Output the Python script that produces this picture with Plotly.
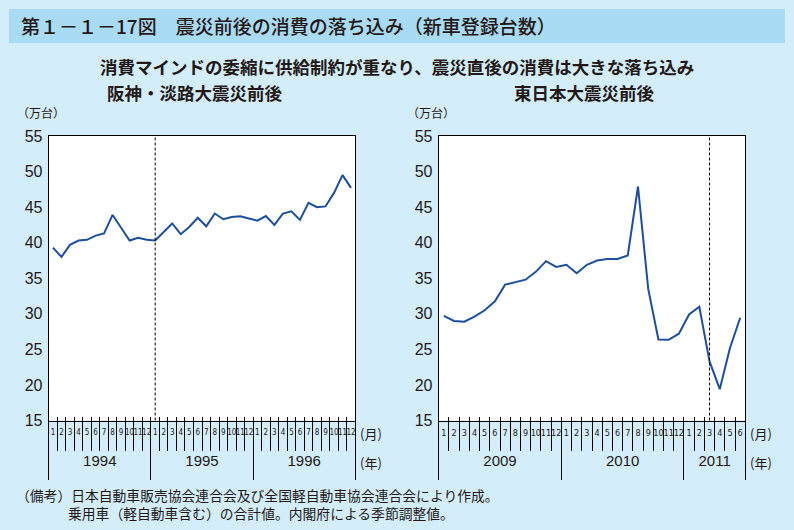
import plotly.graph_objects as go

# ---------------- data ----------------
hanshin_years = ["1994", "1995", "1996"]
hanshin_months = [str(m) for m in range(1, 13)] * 3
hanshin_year_len = [12, 12, 12]
hanshin_values = [39.3, 38.0, 39.7, 40.3, 40.4, 41.0, 41.3, 43.9, 42.1, 40.3, 40.7, 40.4,
                  40.3, 41.5, 42.7, 41.2, 42.2, 43.5, 42.3, 44.1, 43.3, 43.6, 43.7, 43.4,
                  43.1, 43.75, 42.5, 44.1, 44.4, 43.2, 45.6, 45.0, 45.1, 47.0, 49.5, 47.7]
hanshin_quake = ("1995", "1")

east_years = ["2009", "2010", "2011"]
east_months = [str(m) for m in range(1, 13)] * 2 + [str(m) for m in range(1, 7)]
east_year_len = [12, 12, 6]
east_values = [29.7, 29.0, 28.9, 29.6, 30.5, 31.75, 34.1, 34.4, 34.8, 35.9, 37.4, 36.6,
               36.9, 35.7, 36.9, 37.5, 37.7, 37.7, 38.2, 47.9, 33.5, 26.4, 26.35, 27.2,
               29.9, 31.0, 23.3, 19.4, 25.2, 29.45]
east_quake = ("2011", "3")

y_ticks = [15, 20, 25, 30, 35, 40, 45, 50, 55]

title = "第１－１－17図　震災前後の消費の落ち込み（新車登録台数）"
subtitle = "消費マインドの委縮に供給制約が重なり、震災直後の消費は大きな落ち込み"
panel_titles = ["阪神・淡路大震災前後", "東日本大震災前後"]
note1 = "（備考）日本自動車販売協会連合会及び全国軽自動車協会連合会により作成。"
note2 = "乗用車（軽自動車含む）の合計値。内閣府による季節調整値。"

# ---------------- style ----------------
W, H = 794, 530
BG = "#d3eefa"
BAR = "#a9dbf4"
LINE = "#1d4f9e"
TXT = "#231815"
CJK = "Noto Sans CJK JP"
NUM = "Liberation Sans, Arial, sans-serif"
NARROW = "Liberation Sans Narrow, DejaVu Sans Condensed, Arial Narrow, Liberation Sans, sans-serif"

plot_top, plot_bot = 136, 420.5
panels = [
    dict(x0=48.7, x1=355.3, years=hanshin_years, months=hanshin_months, ylen=hanshin_year_len,
         vals=hanshin_values, quake=hanshin_quake, msize=8),
    dict(x0=438.7, x1=745.3, years=east_years, months=east_months, ylen=east_year_len,
         vals=east_values, quake=east_quake, msize=9),
]

fig = go.Figure()
layout = {}
shapes = []
annotations = []

ydom = [(H - plot_bot) / H, (H - plot_top) / H]


def axkey(a):
    return "xaxis" if a == "x" else a.replace("x", "xaxis")


for p_i, p in enumerate(panels):
    n = len(p["vals"])
    xs = list(range(n))
    xdom = [p["x0"] / W, p["x1"] / W]
    xm = "x" if p_i == 0 else "x2"        # month axis
    yn = "y" if p_i == 0 else "y2"
    xy = f"x{3 + p_i}"                     # year overlay
    xi = f"x{5 + p_i}"                     # inside tick overlay
    rng = [-0.5, n - 0.5]
    bounds = [i - 0.5 for i in range(n + 1)]

    ystarts = []
    s = 0
    for L in p["ylen"]:
        ystarts.append(s)
        s += L
    ycenters = [st + (L - 1) / 2 for st, L in zip(ystarts, p["ylen"])]
    ybounds = [st - 0.5 for st in ystarts] + [n - 0.5]
    year_of = []
    for yv, L in zip(p["years"], p["ylen"]):
        year_of += [yv] * L

    fig.add_trace(go.Scatter(x=xs, y=p["vals"], xaxis=xm, yaxis=yn, mode="lines",
                             line=dict(color=LINE, width=2), showlegend=False, hoverinfo="skip"))
    fig.add_trace(go.Scatter(x=[], y=[], xaxis=xy, yaxis=yn, showlegend=False, hoverinfo="skip"))
    fig.add_trace(go.Scatter(x=[], y=[], xaxis=xi, yaxis=yn, showlegend=False, hoverinfo="skip"))

    layout[axkey(xm)] = dict(domain=xdom, anchor=yn, range=rng, tickmode="array",
                             tickvals=xs, ticktext=p["months"], ticks="",
                             tickangle=0, tickfont=dict(family=NARROW, size=p["msize"], color=TXT),
                             ticklabelstandoff=4,
                             showline=True, linecolor="black", linewidth=1, mirror=True,
                             showgrid=False, zeroline=False, fixedrange=True, automargin=False,
                             minor=dict(tickmode="array", tickvals=bounds, ticks="outside",
                                        ticklen=29, tickcolor="black", tickwidth=1))
    layout[axkey(xy)] = dict(overlaying=xm, anchor=yn, side="bottom", range=rng,
                             tickmode="array", tickvals=ycenters, ticktext=p["years"],
                             ticks="", tickangle=0, automargin=False,
                             tickfont=dict(family=NUM, size=15, color=TXT),
                             showline=False, showgrid=False, zeroline=False,
                             ticklabelstandoff=29,
                             minor=dict(tickmode="array", tickvals=ybounds, ticks="outside",
                                        ticklen=58, tickcolor="black", tickwidth=1))
    layout[axkey(xi)] = dict(overlaying=xm, anchor=yn, side="bottom", range=rng,
                             tickmode="array", tickvals=bounds, ticks="inside", ticklen=4,
                             tickcolor="black", showticklabels=False, showline=False,
                             showgrid=False, zeroline=False, automargin=False)
    layout["yaxis" if yn == "y" else "yaxis2"] = dict(
        domain=ydom, anchor=xm, range=[15, 55], tickmode="array", tickvals=y_ticks,
        ticks="", showline=True, linecolor="black", linewidth=1, mirror=True,
        showgrid=False, zeroline=False, tickfont=dict(family=NUM, size=16, color=TXT),
        ticklabelstandoff=2, automargin=False)

    qidx = [i for i in range(n) if year_of[i] == p["quake"][0] and p["months"][i] == p["quake"][1]][0]
    shapes.append(dict(type="line", xref=xm, yref=f"{yn} domain", x0=qidx, x1=qidx, y0=0, y1=1,
                       line=dict(color="black", width=1, dash="3px,2px")))

    annotations.append(dict(text="（万台）", xref="paper", yref="paper",
                            x=(p["x0"] - 8) / W, y=(H - 113) / H, xanchor="center",
                            yanchor="middle", showarrow=False,
                            font=dict(family=CJK, size=12, color=TXT)))
    annotations.append(dict(text="(月)", xref="paper", yref="paper",
                            x=(p["x1"] + 3) / W, y=(H - 433) / H, xanchor="left", yanchor="middle",
                            showarrow=False, font=dict(family=CJK, size=13, color=TXT)))
    annotations.append(dict(text="(年)", xref="paper", yref="paper",
                            x=(p["x1"] + 3) / W, y=(H - 462) / H, xanchor="left", yanchor="middle",
                            showarrow=False, font=dict(family=CJK, size=13, color=TXT)))

shapes.append(dict(type="rect", xref="paper", yref="paper", x0=9 / W, x1=785 / W,
                   y0=(H - 43) / H, y1=(H - 9) / H, fillcolor=BAR, line=dict(width=0), layer="below"))
annotations.append(dict(text=title, xref="paper", yref="paper", x=19 / W, y=(H - 26) / H,
                        xanchor="left", yanchor="middle", showarrow=False,
                        font=dict(family=CJK, size=19, color=TXT, weight=500)))
annotations.append(dict(text=subtitle, xref="paper", yref="paper", x=397 / W, y=(H - 67) / H,
                        xanchor="center", yanchor="middle", showarrow=False,
                        font=dict(family=CJK, size=17.5, color=TXT, weight=700)))
annotations.append(dict(text=panel_titles[0], xref="paper", yref="paper", x=194 / W, y=(H - 93) / H,
                        xanchor="center", yanchor="middle", showarrow=False,
                        font=dict(family=CJK, size=17.5, color=TXT, weight=700)))
annotations.append(dict(text=panel_titles[1], xref="paper", yref="paper", x=584 / W, y=(H - 93) / H,
                        xanchor="center", yanchor="middle", showarrow=False,
                        font=dict(family=CJK, size=17.5, color=TXT, weight=700)))
annotations.append(dict(text=note1, xref="paper", yref="paper", x=14 / W, y=(H - 495) / H,
                        xanchor="left", yanchor="middle", showarrow=False,
                        font=dict(family=CJK, size=13.8, color=TXT)))
annotations.append(dict(text=note2, xref="paper", yref="paper", x=66 / W, y=(H - 513) / H,
                        xanchor="left", yanchor="middle", showarrow=False,
                        font=dict(family=CJK, size=13.8, color=TXT)))

fig.update_layout(width=W, height=H, margin=dict(l=0, r=0, t=0, b=0, autoexpand=False),
                  paper_bgcolor=BG, plot_bgcolor="white", shapes=shapes,
                  annotations=annotations, showlegend=False, **layout)

fig.write_html("out.html", config={"displayModeBar": False},
               post_script="document.body.style.margin='0';")
